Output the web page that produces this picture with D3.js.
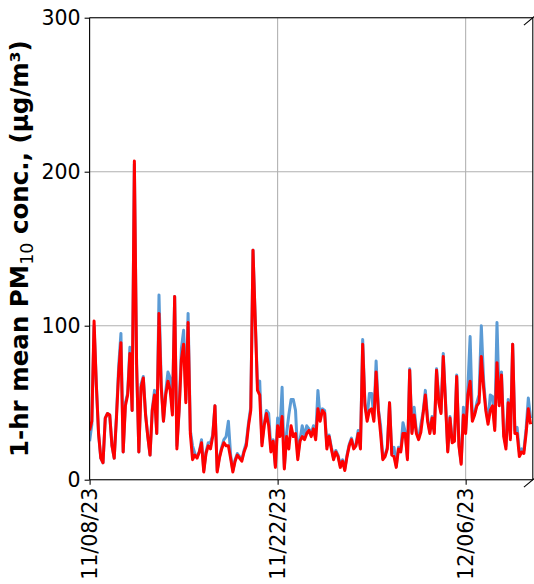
<!DOCTYPE html>
<html>
<head>
<meta charset="utf-8">
<script src="https://cdn.jsdelivr.net/npm/d3@7"></script>
<style>
  body { margin: 0; background: #ffffff; }
  svg { display: block; }
</style>
</head>
<body>
<svg id="chart" width="534" height="584"></svg>
<script>
// Hourly PM10 record, resampled to 4-hour steps starting 11/08/23 00:00 (UTC)
const startTime = "2023-11-08T00:00:00Z";
const stepHours = 4;
const xDomain = ["2023-11-08T00:00:00Z", "2023-12-11T00:00:00Z"];
const xTickDates = ["2023-11-08", "2023-11-22", "2023-12-06"];
const yDomain = [0, 300];
const yTicks = [0, 100, 200, 300];

// Monitor A (blue)
const pm10A = [
  25, 36, 100, 62, 30, 14, 11, 40, 43, 42, 22, 14, 42, 74, 95, 18, 50, 56, 86, 45,
  205, 75, 18, 62, 67, 43, 28, 16, 46, 58, 30, 120, 62, 38, 57, 70, 66, 44, 119, 22,
  46, 85, 97, 52, 108, 32, 22, 17, 15, 18, 26, 6, 18, 24, 24, 29, 48, 6, 15, 21,
  26, 28, 38, 16, 6, 13, 17, 15, 13, 19, 24, 37, 47, 149, 104, 62, 64, 24, 36, 45,
  43, 20, 26, 9, 40, 30, 60, 8, 30, 42, 52, 52, 45, 15, 26, 35, 28, 35, 33, 30,
  35, 28, 58, 40, 46, 45, 22, 29, 21, 14, 19, 16, 9, 13, 7, 16, 23, 27, 21, 23,
  32, 21, 91, 50, 40, 56, 56, 40, 77, 46, 35, 14, 16, 21, 50, 17, 21, 9, 21, 19,
  37, 31, 14, 72, 31, 47, 31, 27, 36, 44, 58, 40, 31, 41, 31, 72, 54, 44, 82, 52,
  19, 41, 25, 26, 68, 23, 11, 47, 32, 60, 93, 40, 43, 50, 55, 100, 65, 47, 38, 55,
  54, 34, 102, 50, 70, 30, 22, 52, 28, 88, 32, 34, 18, 20, 19, 33, 53, 40
];

// Monitor B (red)
const pm10B = [
  32, 38, 103, 62, 30, 14, 11, 40, 43, 42, 22, 14, 40, 70, 89, 18, 48, 55, 82, 45,
  207, 75, 18, 60, 66, 42, 28, 16, 45, 55, 30, 108, 60, 38, 55, 64, 58, 42, 119, 20,
  45, 78, 88, 50, 102, 30, 13, 16, 14, 18, 24, 5, 17, 22, 20, 28, 48, 5, 14, 20,
  24, 22, 22, 14, 5, 12, 16, 14, 12, 18, 22, 35, 45, 149, 104, 58, 55, 22, 35, 43,
  35, 18, 25, 8, 35, 28, 41, 7, 28, 20, 35, 28, 30, 13, 25, 28, 26, 30, 32, 28,
  33, 26, 46, 38, 45, 43, 20, 28, 20, 13, 18, 15, 8, 12, 6, 15, 22, 26, 20, 22,
  30, 20, 88, 48, 38, 45, 46, 38, 70, 45, 30, 13, 15, 20, 50, 16, 15, 8, 20, 18,
  30, 30, 13, 71, 30, 42, 30, 26, 31, 43, 55, 38, 30, 40, 30, 71, 50, 43, 80, 50,
  18, 40, 24, 25, 67, 22, 10, 42, 30, 55, 64, 38, 42, 48, 50, 80, 60, 45, 36, 45,
  48, 32, 76, 48, 68, 28, 20, 50, 26, 88, 30, 30, 15, 18, 17, 30, 46, 36
];

const colorA = "#5b9bd5";
const colorB = "#ff0000";

const W = 534, H = 584;
const margin = { left: 89.6, top: 17.7, right: 1.2, bottom: 104.3 };
const x0 = margin.left, x1 = W - margin.right;
const y0 = H - margin.bottom, y1 = margin.top;

const svg = d3.select("#chart");
const font = "'DejaVu Sans', sans-serif";

const t0 = new Date(startTime).getTime();
const timeAt = i => new Date(t0 + i * stepHours * 3600 * 1000);

const x = d3.scaleUtc().domain(xDomain.map(d => new Date(d))).range([x0, x1]);
const y = d3.scaleLinear().domain(yDomain).range([y0, y1]);

// clip region for the traces
svg.append("defs").append("clipPath").attr("id", "plot-clip")
  .append("rect").attr("x", x0).attr("y", y1).attr("width", x1 - x0).attr("height", y0 - y1);

// grid
const grid = svg.append("g").attr("stroke", "#b0b0b0").attr("stroke-width", 1.07);
xTickDates.forEach(d => {
  const gx = x(new Date(d + "T00:00:00Z"));
  grid.append("line").attr("x1", gx).attr("x2", gx).attr("y1", y0).attr("y2", y1);
});
yTicks.forEach(v => {
  grid.append("line").attr("x1", x0).attr("x2", x1).attr("y1", y(v)).attr("y2", y(v));
});

// traces
const line = d3.line().x((d, i) => x(timeAt(i))).y(d => y(d));
const traces = svg.append("g").attr("clip-path", "url(#plot-clip)");
[[pm10A, colorA], [pm10B, colorB]].forEach(([series, c]) => {
  traces.append("path").datum(series)
    .attr("fill", "none").attr("stroke", c).attr("stroke-width", 3)
    .attr("stroke-linejoin", "round").attr("stroke-linecap", "butt")
    .attr("d", line);
});

// axes
const yAxis = d3.axisLeft(y).tickValues(yTicks).tickSize(5).tickPadding(4).tickFormat(d3.format("d"));
const gy = svg.append("g").attr("transform", `translate(${x0},0)`).call(yAxis);
gy.select(".domain").remove();
gy.selectAll("text").attr("font-family", font).attr("font-size", 20.5).attr("fill", "#000");
gy.selectAll("line").attr("stroke", "#000").attr("stroke-width", 1.07);

const xAxis = d3.axisBottom(x)
  .tickValues(xTickDates.map(d => new Date(d + "T00:00:00Z")))
  .tickSize(5).tickFormat(d3.utcFormat("%m/%d/%y"));
const gx = svg.append("g").attr("transform", `translate(0,${y0})`).call(xAxis);
gx.select(".domain").remove();
gx.selectAll("line").attr("stroke", "#000").attr("stroke-width", 1.07);
gx.selectAll("text")
  .attr("font-family", font).attr("font-size", 20.5).attr("fill", "#000")
  .attr("transform", "rotate(-90)")
  .attr("x", -8).attr("y", 0).attr("dy", "0.35em")
  .style("text-anchor", "end");

// spines: left, top, bottom, right
const spines = svg.append("g").attr("stroke", "#000").attr("stroke-width", 1.07).attr("fill", "none");
spines.append("line").attr("x1", x0).attr("x2", x0).attr("y1", y0).attr("y2", y1);
spines.append("line").attr("x1", x0).attr("x2", x1).attr("y1", y1).attr("y2", y1);
spines.append("line").attr("x1", x0).attr("x2", x1).attr("y1", y0).attr("y2", y0);
spines.append("line").attr("x1", x1).attr("x2", x1).attr("y1", y0).attr("y2", y1);

// break marks at the right-hand corners
const dX = 0.02 * (x1 - x0), dY = 0.016 * (y0 - y1);
[y1, y0].forEach(cy => {
  spines.append("line")
    .attr("x1", x1 - dX).attr("y1", cy + dY)
    .attr("x2", x1 + dX).attr("y2", cy - dY);
});

// y-axis title
const title = svg.append("text")
  .attr("transform", `translate(28,${(y0 + y1) / 2}) rotate(-90)`)
  .attr("text-anchor", "middle")
  .attr("font-family", font).attr("font-size", 24.5).attr("font-weight", "bold")
  .attr("fill", "#000");
title.append("tspan").text("1-hr mean PM");
title.append("tspan").attr("font-size", 17.5).attr("font-weight", "normal").attr("dy", 5).text("10");
title.append("tspan").attr("dy", -5).text(" conc., (μg/m³)");
</script>
</body>
</html>
